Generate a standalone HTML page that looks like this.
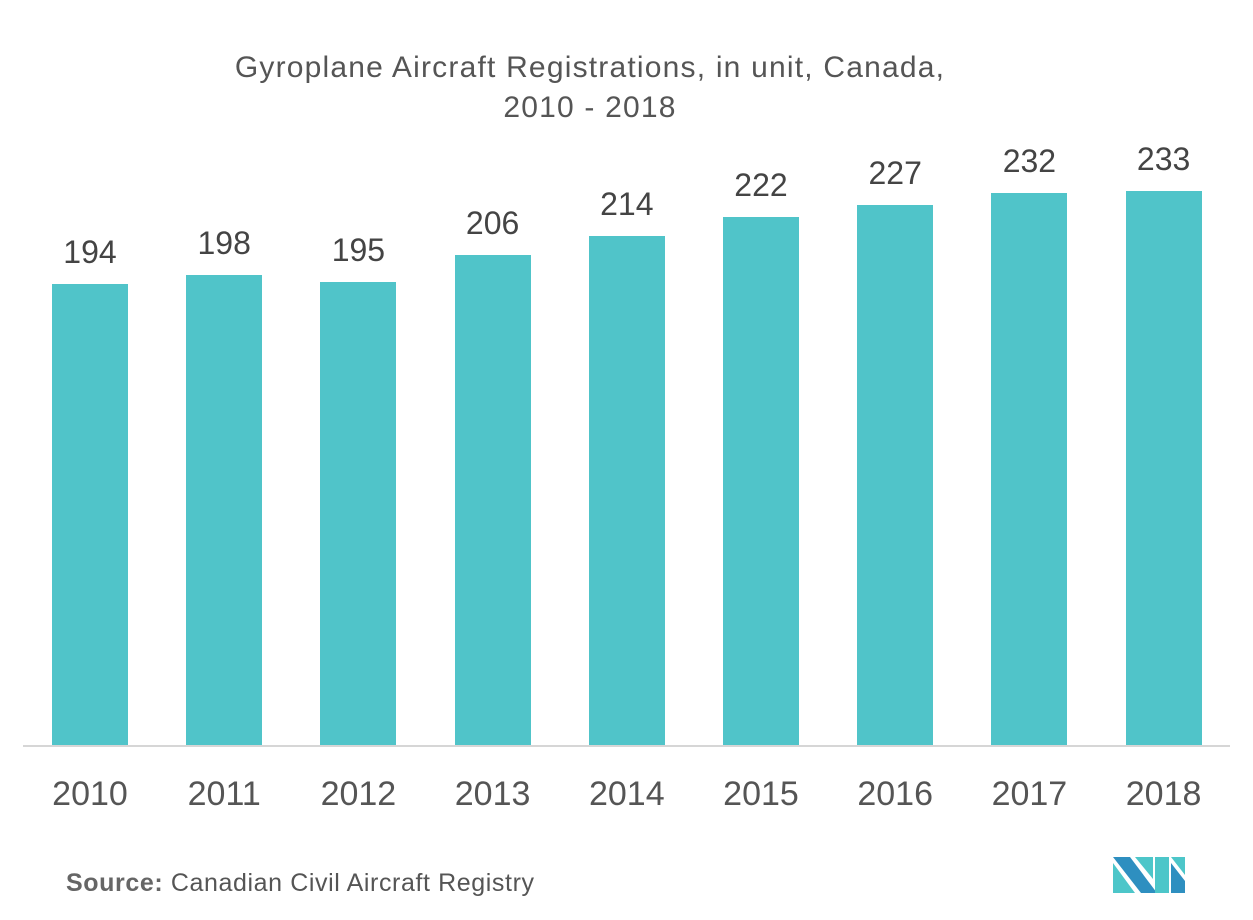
<!DOCTYPE html>
<html><head><meta charset="utf-8"><style>
body{margin:0;width:1253px;height:920px;background:#fff;position:relative;font-family:"Liberation Sans",sans-serif;overflow:hidden}
.t{position:absolute;left:0;width:1180px;text-align:center;color:#555;font-size:30px;line-height:40px;letter-spacing:1.2px}
.b{position:absolute;background:#50c4c9;width:76px}
.v{position:absolute;width:120px;text-align:center;color:#444;font-size:32px}
.x{position:absolute;width:120px;text-align:center;color:#555;font-size:34px;top:775px}
</style></head><body>
<div class="t" style="top:48px">Gyroplane Aircraft Registrations, in unit, Canada,<br>2010 - 2018</div>
<div style="position:absolute;left:23px;top:745px;width:1207px;height:2px;background:#d6d6d6"></div>
<div id="c"></div>
<div style="position:absolute;left:66px;top:869px;font-size:25px;color:#555;letter-spacing:0.6px"><b style="color:#666">Source:</b> Canadian Civil Aircraft Registry</div>
<svg style="position:absolute;left:1113px;top:857px" width="73" height="38" viewBox="0 0 73 38">
<polygon points="0,0 17,0 44,36 28,36 0,0" fill="#2e8fc0"/>
<polygon points="0,6 0,36 22,36" fill="#4dc6c9"/>
<polygon points="22,0 40,0 40,22" fill="#4dc6c9"/>
<polygon points="42,0 56,0 56,36 42,36 42,24" fill="#4dc6c9"/>
<polygon points="58,6 72,24 72,36 58,36" fill="#2e8fc0"/>
<polygon points="58,0 72,0 72,18" fill="#4dc6c9"/>
</svg>
<script>
var v=[194,198,195,206,214,222,227,232,233],t=[284,275,282,255,236,217,205,193,191],h='';
for(var i=0;i<9;i++){var l=52+i*134.2;
h+='<div class="b" style="left:'+l+'px;top:'+t[i]+'px;height:'+(745-t[i])+'px"></div>';
h+='<div class="v" style="left:'+(l-22)+'px;top:'+(t[i]-50)+'px">'+v[i]+'</div>';
h+='<div class="x" style="left:'+(l-22)+'px">'+(2010+i)+'</div>';}
document.getElementById('c').innerHTML=h;
</script>
</body></html>
